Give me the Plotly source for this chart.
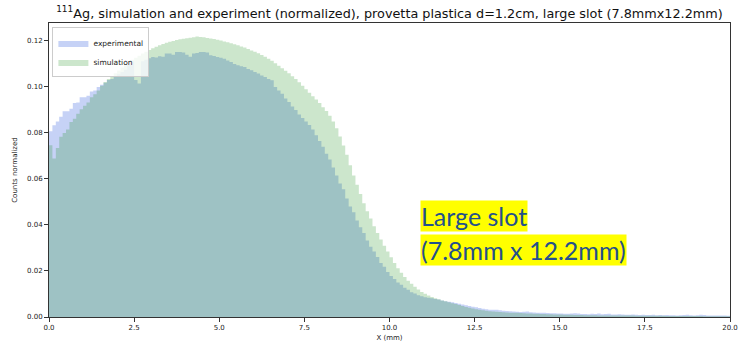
import plotly.graph_objects as go

# ---- data (0.1 mm bins from 0 to 20 mm) ----
bin_width = 0.1
bin_edges = [round(i * bin_width, 1) for i in range(201)]

simulation = [
    0.0747, 0.0689, 0.0735, 0.0783, 0.0800, 0.0815, 0.0848, 0.0862, 0.0884, 0.0903,
    0.0918, 0.0932, 0.0955, 0.0968, 0.0985, 0.1005, 0.1022, 0.1035, 0.1048, 0.1060,
    0.1072, 0.1085, 0.1098, 0.1108, 0.1118, 0.1127, 0.1136, 0.1145, 0.1153, 0.1161,
    0.1168, 0.1175, 0.1181, 0.1187, 0.1192, 0.1197, 0.1200, 0.1204, 0.1207, 0.1209,
    0.1212, 0.1214, 0.1216, 0.1219, 0.1217, 0.1216, 0.1213, 0.1211, 0.1208, 0.1205,
    0.1202, 0.1198, 0.1194, 0.1190, 0.1186, 0.1181, 0.1176, 0.1171, 0.1165, 0.1159,
    0.1153, 0.1146, 0.1139, 0.1131, 0.1123, 0.1114, 0.1103, 0.1092, 0.1081, 0.1070,
    0.1060, 0.1047, 0.1035, 0.1020, 0.1005, 0.0990, 0.0975, 0.0960, 0.0945, 0.0930,
    0.0912, 0.0895, 0.0875, 0.0850, 0.0820, 0.0785, 0.0745, 0.0705, 0.0660, 0.0615,
    0.0575, 0.0535, 0.0495, 0.0460, 0.0428, 0.0395, 0.0365, 0.0337, 0.0310, 0.0285,
    0.0260, 0.0235, 0.0212, 0.0192, 0.0174, 0.0158, 0.0145, 0.0132, 0.0120, 0.0109,
    0.0101, 0.0094, 0.0087, 0.0082, 0.0077, 0.0072, 0.0068, 0.0064, 0.0060, 0.0056,
    0.0052, 0.0048, 0.0044, 0.0040, 0.0037, 0.0034, 0.0031, 0.0029, 0.0027, 0.0025,
    0.0024, 0.0023, 0.0022, 0.0021, 0.0020, 0.0019, 0.0018, 0.0018, 0.0017, 0.0016,
    0.0015, 0.0015, 0.0014, 0.0014, 0.0013, 0.0013, 0.0012, 0.0012, 0.0011, 0.0011,
    0.0011, 0.0010, 0.0010, 0.0010, 0.0009, 0.0009, 0.0009, 0.0008, 0.0008, 0.0008,
    0.0008, 0.0007, 0.0007, 0.0007, 0.0007, 0.0007, 0.0006, 0.0006, 0.0006, 0.0006,
    0.0006, 0.0006, 0.0005, 0.0005, 0.0005, 0.0005, 0.0005, 0.0005, 0.0005, 0.0005,
    0.0005, 0.0004, 0.0004, 0.0004, 0.0004, 0.0004, 0.0004, 0.0004, 0.0004, 0.0004,
    0.0004, 0.0004, 0.0003, 0.0003, 0.0003, 0.0003, 0.0003, 0.0003, 0.0003, 0.0003,
]

experimental = [
    0.0807, 0.0834, 0.0850, 0.0870, 0.0894, 0.0894, 0.0905, 0.0930, 0.0932, 0.0955,
    0.0955, 0.0962, 0.0980, 0.0985, 0.1000, 0.1010, 0.1018, 0.1030, 0.1035, 0.1048,
    0.1055, 0.1065, 0.1075, 0.1095, 0.1112, 0.1030, 0.1015, 0.1112, 0.1118, 0.1125,
    0.1130, 0.1128, 0.1133, 0.1131, 0.1145, 0.1145, 0.1140, 0.1152, 0.1152, 0.1150,
    0.1140, 0.1131, 0.1145, 0.1148, 0.1152, 0.1152, 0.1150, 0.1138, 0.1135, 0.1130,
    0.1127, 0.1123, 0.1115, 0.1109, 0.1100, 0.1094, 0.1090, 0.1087, 0.1078, 0.1073,
    0.1065, 0.1058, 0.1050, 0.1043, 0.1035, 0.1029, 0.1000, 0.0985, 0.0970, 0.0950,
    0.0935, 0.0915, 0.0900, 0.0880, 0.0865, 0.0850, 0.0835, 0.0815, 0.0790, 0.0765,
    0.0740, 0.0710, 0.0685, 0.0650, 0.0615, 0.0580, 0.0555, 0.0515, 0.0480, 0.0455,
    0.0420, 0.0390, 0.0365, 0.0333, 0.0305, 0.0285, 0.0261, 0.0235, 0.0218, 0.0196,
    0.0178, 0.0165, 0.0150, 0.0140, 0.0127, 0.0118, 0.0108, 0.0102, 0.0095, 0.0090,
    0.0086, 0.0084, 0.0082, 0.0078, 0.0076, 0.0072, 0.0069, 0.0066, 0.0064, 0.0061,
    0.0058, 0.0054, 0.0051, 0.0048, 0.0045, 0.0042, 0.0039, 0.0036, 0.0034, 0.0032,
    0.0031, 0.0032, 0.0029, 0.0027, 0.0026, 0.0025, 0.0024, 0.0023, 0.0022, 0.0023,
    0.0024, 0.0021, 0.0020, 0.0019, 0.0018, 0.0018, 0.0017, 0.0016, 0.0016, 0.0015,
    0.0015, 0.0014, 0.0014, 0.0015, 0.0016, 0.0015, 0.0013, 0.0013, 0.0012, 0.0014,
    0.0013, 0.0015, 0.0012, 0.0013, 0.0014, 0.0011, 0.0011, 0.0012, 0.0011, 0.0010,
    0.0010, 0.0011, 0.0010, 0.0009, 0.0010, 0.0009, 0.0009, 0.0010, 0.0008, 0.0009,
    0.0008, 0.0009, 0.0008, 0.0008, 0.0007, 0.0008, 0.0009, 0.0010, 0.0008, 0.0007,
    0.0008, 0.0010, 0.0009, 0.0007, 0.0007, 0.0006, 0.0006, 0.0007, 0.0006, 0.0005,
]

x_ticks = [0.0, 2.5, 5.0, 7.5, 10.0, 12.5, 15.0, 17.5, 20.0]
y_ticks = [0.00, 0.02, 0.04, 0.06, 0.08, 0.10, 0.12]

title_text = "<sup>111</sup>Ag, simulation and experiment (normalized), provetta plastica d=1.2cm, large slot (7.8mmx12.2mm)"
note_lines = ["Large slot", "(7.8mm x 12.2mm)"]
note_pos = [(10.91, 0.0440), (10.91, 0.0293)]


def step(vals):
    return vals + [vals[-1]]


fig = go.Figure()
fig.add_trace(go.Scatter(
    x=bin_edges, y=step(experimental), name="experimental",
    mode="lines", line=dict(shape="hv", width=0, color="rgba(65,105,225,0)"),
    fill="tozeroy", fillcolor="rgba(65,105,225,0.3)",
))
fig.add_trace(go.Scatter(
    x=bin_edges, y=step(simulation), name="simulation",
    mode="lines", line=dict(shape="hv", width=0, color="rgba(0,128,0,0)"),
    fill="tozeroy", fillcolor="rgba(0,128,0,0.2)",
))

for txt, (ax, ay) in zip(note_lines, note_pos):
    fig.add_annotation(
        x=ax, y=ay, xref="x", yref="y", text=txt, showarrow=False,
        xanchor="left", yanchor="middle", bgcolor="#ffff00", borderpad=0,
        font=dict(family="Lato", size=25, color="#24508c"),
    )

axis_common = dict(
    showgrid=False, zeroline=False, showline=True, mirror=True, automargin=False,
    linecolor="#333333", linewidth=1, ticks="outside", ticklen=4,
    tickcolor="#333333", tickwidth=1,
    tickfont=dict(family="DejaVu Sans", size=7, color="#222222"),
)

fig.update_layout(
    width=744, height=345,
    margin=dict(l=49, r=14, t=23, b=28),
    paper_bgcolor="white", plot_bgcolor="white",
    title=dict(text=title_text, x=0.5235, xanchor="center", y=0.962, yanchor="middle",
               yref="container", font=dict(family="DejaVu Sans", size=12.8, color="#111111")),
    xaxis=dict(range=[0, 20], tickvals=x_ticks, ticktext=[f"{v:.1f}" for v in x_ticks],
               title=dict(text="X (mm)", standoff=3,
                          font=dict(family="DejaVu Sans", size=7, color="#222222")),
               **axis_common),
    yaxis=dict(range=[0, 0.1278], tickvals=y_ticks, ticktext=[f"{v:.2f}" for v in y_ticks],
               title=dict(text="Counts normalized", standoff=8,
                          font=dict(family="DejaVu Sans", size=7, color="#222222")),
               **axis_common),
    legend=dict(x=0.005, y=0.985, xanchor="left", yanchor="top",
                bgcolor="rgba(255,255,255,0.8)", bordercolor="#cccccc", borderwidth=1,
                font=dict(family="DejaVu Sans", size=7.5, color="#222222"),
                tracegroupgap=0, itemwidth=30),
    showlegend=True,
)

fig.write_html("out.html")
